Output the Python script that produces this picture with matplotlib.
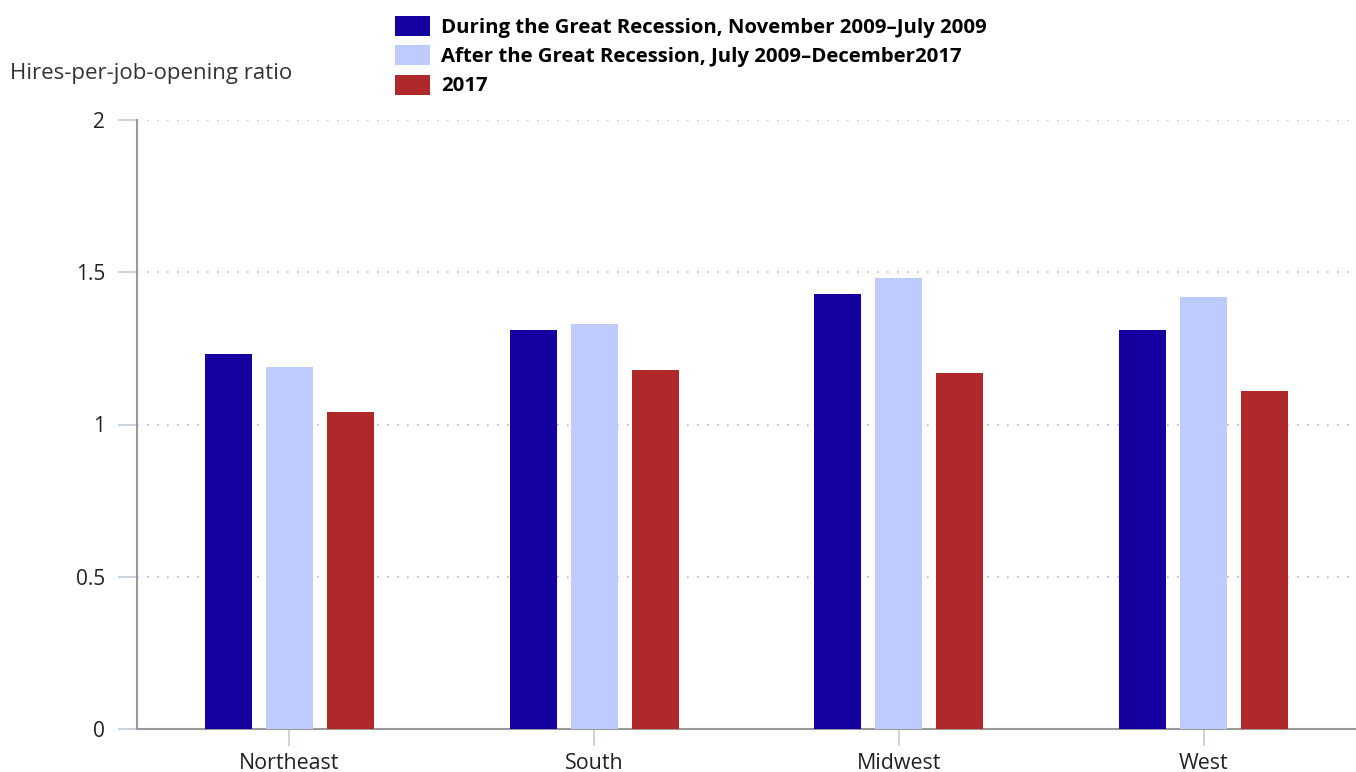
import numpy as np
import matplotlib
matplotlib.use("Agg")
import matplotlib.pyplot as plt
from matplotlib.patches import Patch

plt.rcParams['font.family'] = ['Open Sans', 'DejaVu Sans']

# Data
regions = ['Northeast', 'South', 'Midwest', 'West']
during = [1.23, 1.31, 1.43, 1.31]
after = [1.19, 1.33, 1.48, 1.42]
year_2017 = [1.04, 1.18, 1.17, 1.11]
series_labels = [
    'During the Great Recession, November 2009\u2013July 2009',
    'After the Great Recession, July 2009\u2013December2017',
    '2017',
]
colors = ['#1500A0', '#BDCCFC', '#B0292A']
y_ticks = [0, 0.5, 1, 1.5, 2]
y_tick_labels = ['0', '0.5', '1', '1.5', '2']

fig = plt.figure(figsize=(13.56, 7.72), dpi=100)
ax = fig.add_axes([137 / 1356, 1 - 729 / 772, 1 - 137 / 1356, (729 - 120) / 772])

x = np.arange(len(regions))
width = 0.154
for i, (vals, col) in enumerate(zip([during, after, year_2017], colors)):
    ax.bar(x + (i - 1) * 0.2, vals, width, color=col, zorder=3)

ax.set_xlim(-0.5, 3.5)
ax.set_ylim(0, 2)
ax.set_yticks(y_ticks)
ax.set_yticklabels(y_tick_labels)
ax.set_xticks(x)
ax.set_xticklabels(regions)

for s in ['top', 'right']:
    ax.spines[s].set_visible(False)
for s in ['left', 'bottom']:
    ax.spines[s].set_color('#999999')
    ax.spines[s].set_linewidth(1.5)

ax.tick_params(axis='y', length=14, width=1.2, color='#C0CCE0', labelsize=15,
               labelcolor='#222222', pad=9)
ax.tick_params(axis='x', length=12, width=1.2, color='#C0CCE0', labelsize=15.4,
               labelcolor='#222222', pad=5)

for yv in y_ticks[1:]:
    ax.axhline(yv, color='#BBBBBB', linestyle=(0, (1, 5)), linewidth=1.2, zorder=1)

fig.text(10 / 1356, 1 - 73 / 772, 'Hires-per-job-opening ratio', fontsize=16,
         color='#333333', va='center', ha='left')

handles = [Patch(facecolor=c, edgecolor='none') for c in colors]
fig.legend(handles, series_labels, loc='upper left',
           bbox_to_anchor=(395 / 1356, 1 - 16 / 772), frameon=False,
           borderpad=0, borderaxespad=0, handlelength=1.72, handleheight=1.13,
           handletextpad=0.54, labelspacing=0.36,
           prop={'weight': 'bold', 'size': 14.7})

fig.savefig('out.png', dpi=100)
